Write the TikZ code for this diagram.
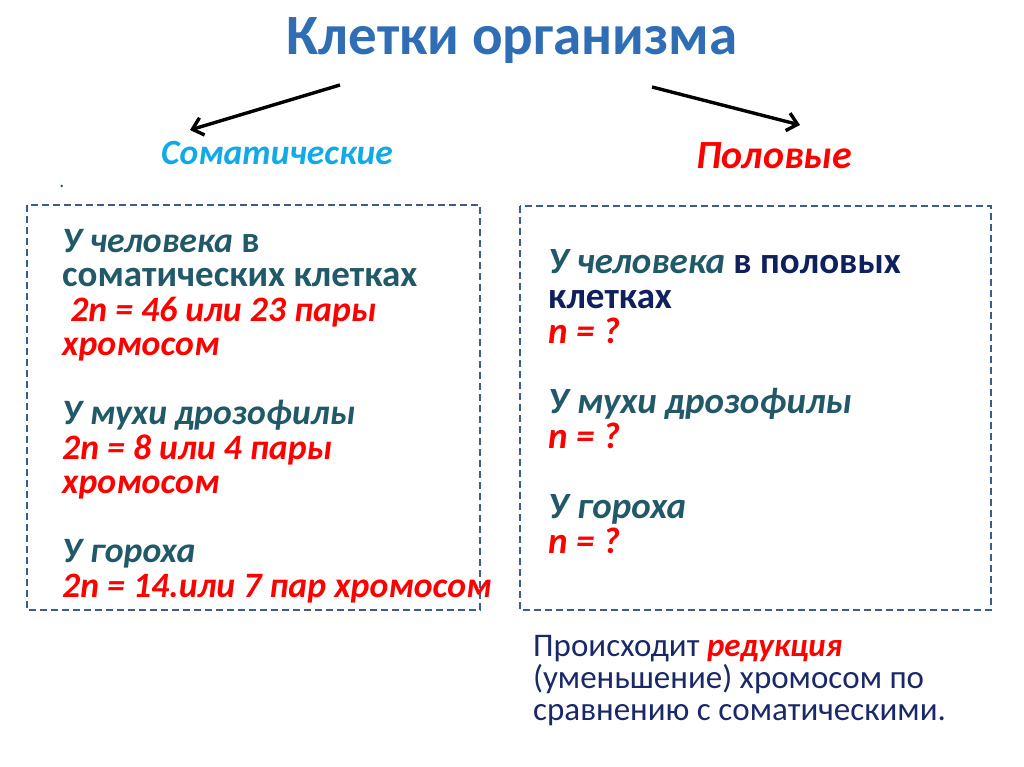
\documentclass[tikz,border=0pt]{standalone}
\usepackage{fontspec}
\setmainfont{Carlito}
\newfontfamily\somafont{Carlito}[BoldItalicFeatures={Scale=0.965}]
\usetikzlibrary{arrows.meta}
\definecolor{TitleBlue}{HTML}{2F6DB5}
\definecolor{SomaCyan}{HTML}{12A9E8}
\definecolor{AlertRed}{HTML}{FF0000}
\definecolor{CellTeal}{HTML}{215968}
\definecolor{CellNavy}{HTML}{10205F}
\definecolor{NoteNavy}{HTML}{1A2868}
\definecolor{FrameBlue}{HTML}{3A5E8C}
% natural word spaces inside aligned nodes
\newcommand{\natsp}{\spaceskip=0pt\xspaceskip=0pt\relax}

\begin{document}
\begin{tikzpicture}[x=1pt,y=-1pt,
  frame/.style={draw=FrameBlue,line width=2pt,dash pattern=on 7pt off 4pt},
  body/.style={anchor=base west,align=left,inner sep=0pt,text=CellTeal,
    text width=470pt,font=\fontsize{37}{34.5}\selectfont\bfseries},
  head/.style={anchor=base,inner sep=0pt,font=\bfseries\itshape},
  branch/.style={-{Straight Barb[length=10pt,width=18pt]},line width=3.4pt,draw=black}]
\useasboundingbox (0,0) rectangle (1024,767);
\node[anchor=base,inner sep=0pt,text=TitleBlue,font=\fontsize{57}{64}\selectfont\bfseries]
  (title) at (512,55) {Клетки организма};
\node[head,text=SomaCyan,font=\fontsize{35.5}{40}\selectfont\bfseries\itshape] (soma) at (277,165) {Соматические};
\node[head,text=AlertRed,font=\fontsize{40}{44}\selectfont\bfseries\itshape] (sex) at (774,169) {Половые};
\node[inner sep=0pt,text=CellTeal,font=\fontsize{20}{20}\selectfont] (dot) at (62,186) {.};
\coordinate (lfrom) at (340,85);
\coordinate (lto) at (190,130);
\coordinate (rfrom) at (652,87);
\coordinate (rto) at (800,125);
\draw[branch] (lfrom) -- (lto);
\draw[branch] (rfrom) -- (rto);
% left box
\draw[frame] (27,205) rectangle (480,610);
\node[body,font=\somafont\fontsize{37}{34.5}\selectfont\bfseries] (somtext) at (62,252)
  {\natsp\textit{У человека} в\\
  соматических клетках\\
  \textcolor{AlertRed}{\textit{\ 2n = 46 или 23 пары}}\\
  \textcolor{AlertRed}{\textit{хромосом}}\\ ~\\
  \textit{У мухи дрозофилы}\\
  \textcolor{AlertRed}{\textit{2n = 8 или 4 пары}}\\
  \textcolor{AlertRed}{\textit{хромосом}}\\ ~\\
  \textit{У гороха}\\
  \textcolor{AlertRed}{\textit{2n = 14.или 7 пар хромосом}}};
% right box
\draw[frame] (520,206) rectangle (991,610);
\node[body,font=\fontsize{37}{35}\selectfont\bfseries] (sextext) at (548,273)
  {\natsp\textit{У человека} \textcolor{CellNavy}{в половых}\\
  \textcolor{CellNavy}{клетках}\\
  \textcolor{AlertRed}{\textit{n = ?}}\\ ~\\
  \textit{У мухи дрозофилы}\\
  \textcolor{AlertRed}{\textit{n = ?}}\\ ~\\
  \textit{У гороха}\\
  \textcolor{AlertRed}{\textit{n = ?}}};
\node[anchor=base west,align=left,inner sep=0pt,text=NoteNavy,text width=480pt,
  font=\fontsize{33}{32}\selectfont] (note) at (533,656)
  {\natsp Происходит \textcolor{AlertRed}{\textbf{\textit{редукция}}}\\
  (уменьшение) хромосом по\\
  сравнению с соматическими.};
\end{tikzpicture}
\end{document}
